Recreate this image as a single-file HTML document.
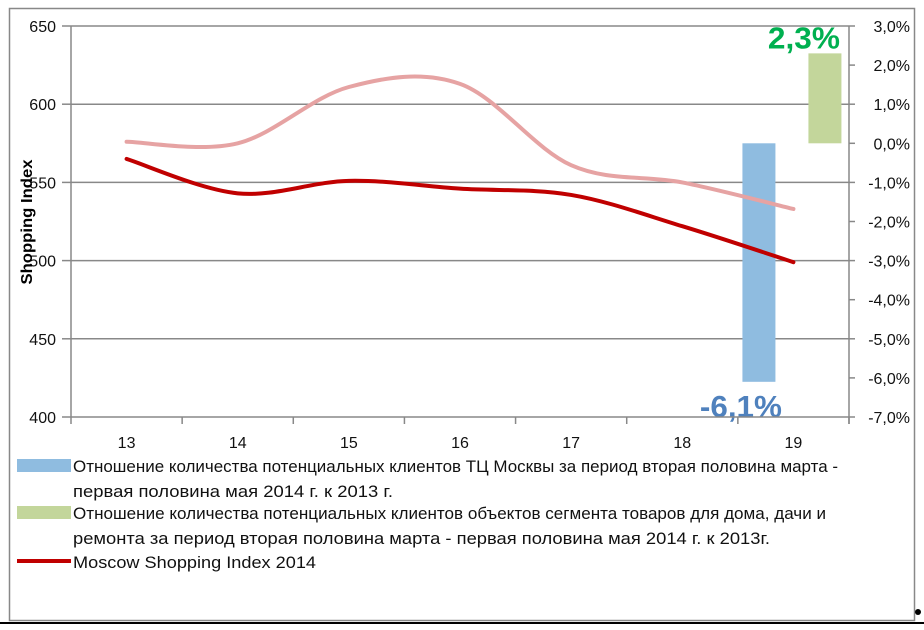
<!DOCTYPE html>
<html><head><meta charset="utf-8"><style>
html,body{margin:0;padding:0;background:#fff;}
svg{display:block;font-family:"Liberation Sans",sans-serif;}
</style></head><body>
<svg id="chart" width="924" height="630" viewBox="0 0 924 630">
<rect x="0" y="0" width="924" height="630" fill="#fff"/>
<rect x="9.5" y="8.5" width="905" height="612" fill="none" stroke="#888" stroke-width="1.5"/>
<line x1="0" y1="623" x2="924" y2="623" stroke="#000" stroke-width="2"/>
<g id="grid"></g><g id="bars"></g><g id="lines"></g><g id="axes"></g>
<text x="32" y="222" transform="rotate(-90 32 222)" text-anchor="middle" font-size="16" font-weight="bold" textLength="125" lengthAdjust="spacingAndGlyphs">Shopping Index</text>
<g id="legend" font-size="17" fill="#111">
<rect x="17" y="459" width="54" height="13" fill="#8fbce0"/>
<text x="73" y="472" textLength="765" lengthAdjust="spacingAndGlyphs">Отношение количества потенциальных клиентов ТЦ Москвы за период вторая половина марта -</text>
<text x="73" y="497" textLength="320" lengthAdjust="spacingAndGlyphs">первая половина мая 2014 г. к 2013 г.</text>
<rect x="17" y="506" width="54" height="13" fill="#c3d69b"/>
<text x="73" y="519" textLength="753" lengthAdjust="spacingAndGlyphs">Отношение количества потенциальных клиентов объектов сегмента товаров для дома, дачи и</text>
<text x="73" y="544" textLength="697" lengthAdjust="spacingAndGlyphs">ремонта за период вторая половина марта - первая половина мая 2014 г. к 2013г.</text>
<line x1="17" y1="561" x2="71" y2="561" stroke="#c00000" stroke-width="4"/>
<text x="73" y="568" textLength="243" lengthAdjust="spacingAndGlyphs">Moscow Shopping Index 2014</text>
</g>
<circle cx="918" cy="612" r="3" fill="#000"/>
</svg>
<script>
const categories = ["13","14","15","16","17","18","19"];
const indexValues = [565, 543, 551, 546, 542, 522, 499];
const shadowValues = [576, 575, 611, 613, 561, 550, 533];
const leftTicks = [400, 450, 500, 550, 600, 650];
const rightTicks = [-7, -6, -5, -4, -3, -2, -1, 0, 1, 2, 3];
const barMoscow = -6.1;
const barHome = 2.3;
const barLabels = ["-6,1%", "2,3%"];

const NS = "http://www.w3.org/2000/svg";
const X0 = 71, X1 = 849, Y0 = 26, Y1 = 417;
const band = (X1 - X0) / categories.length;
const xc = i => X0 + band * (i + 0.5);
const yL = v => Y1 - (v - 400) / 250 * (Y1 - Y0);
const yR = v => Y1 - (v + 7) / 10 * (Y1 - Y0);
function mk(tag, attrs, parent) { const e = document.createElementNS(NS, tag); for (const k in attrs) e.setAttribute(k, attrs[k]); parent.appendChild(e); return e; }
const grid = document.getElementById('grid'), axes = document.getElementById('axes'), bars = document.getElementById('bars'), lines = document.getElementById('lines');

leftTicks.forEach(t => {
  const y = yL(t);
  if (t !== 400) { const g = mk('line', {x1: X0, x2: X1, y1: y, y2: y, stroke: '#888', 'stroke-width': 1.5}, grid);
    
     }
  mk('line', {x1: X0 - 9, x2: X0, y1: y, y2: y, stroke: '#888', 'stroke-width': 1.5}, axes);
  const tx = mk('text', {x: 56, y: y + 6, 'text-anchor': 'end', 'font-size': 16, fill: '#111'}, axes);
  tx.textContent = t;
  
  
});
rightTicks.forEach(t => {
  const y = yR(t);
  mk('line', {x1: X1, x2: X1 + 6, y1: y, y2: y, stroke: '#888', 'stroke-width': 1.5}, axes);
  const tx = mk('text', {x: 910, y: y + 6, 'text-anchor': 'end', 'font-size': 16, fill: '#111'}, axes);
  tx.textContent = t.toFixed(1).replace('.', ',') + '%';
  
  
});
mk('line', {x1: X0, x2: X0, y1: Y0, y2: Y1 + 7, stroke: '#888', 'stroke-width': 1.5}, axes);
mk('line', {x1: X1, x2: X1, y1: Y0, y2: Y1 + 7, stroke: '#888', 'stroke-width': 1.5}, axes);
mk('line', {x1: X0, x2: X1, y1: Y1, y2: Y1, stroke: '#888', 'stroke-width': 1.5}, axes);
categories.forEach((c, i) => {
  mk('line', {x1: X0 + band * (i + 1), x2: X0 + band * (i + 1), y1: Y1, y2: Y1 + 7, stroke: '#888', 'stroke-width': 1.5}, axes);
  const tx = mk('text', {x: xc(i), y: 448, 'text-anchor': 'middle', 'font-size': 16, fill: '#111'}, axes);
  tx.textContent = c;
  
  
});

const last = categories.length - 1, bw = 33;
function bar(v, x, color, name) {
  const y0 = yR(0), y = yR(v);
  const r = mk('rect', {x: x, y: Math.min(y0, y), width: bw, height: Math.abs(y - y0), fill: color}, bars);
  
  
}
const bx1 = xc(last) - 51, bx2 = xc(last) + 15;
bar(barMoscow, bx1, '#8fbce0', 'bar-moscow-clients');
bar(barHome, bx2, '#c3d69b', 'bar-home-segment');
const l1 = mk('text', {x: bx1 + bw / 2 - 18, y: yR(barMoscow) + 35, 'text-anchor': 'middle', 'font-size': 31, 'font-weight': 'bold', fill: '#4f81bd', textLength: 82, lengthAdjust: 'spacingAndGlyphs'}, bars);
l1.textContent = barLabels[0];


const l2 = mk('text', {x: bx2 + bw / 2 - 21, y: yR(barHome) - 5, 'text-anchor': 'middle', 'font-size': 31, 'font-weight': 'bold', fill: '#00b050', textLength: 72, lengthAdjust: 'spacingAndGlyphs'}, bars);
l2.textContent = barLabels[1];



function smooth(vals) {
  const p = vals.map((v, i) => [xc(i), yL(v)]);
  let d = 'M' + p[0][0] + ',' + p[0][1];
  for (let i = 0; i < p.length - 1; i++) {
    const a = p[i - 1] || p[i], b = p[i], c = p[i + 1], e = p[i + 2] || c;
    const t = 6;
    d += ' C' + (b[0] + (c[0] - a[0]) / t) + ',' + (b[1] + (c[1] - a[1]) / t) + ' ' + (c[0] - (e[0] - b[0]) / t) + ',' + (c[1] - (e[1] - b[1]) / t) + ' ' + c[0] + ',' + c[1];
  }
  return d;
}
const s = mk('path', {d: smooth(shadowValues), fill: 'none', stroke: '#e6a3a3', 'stroke-width': 4, 'stroke-linecap': 'round'}, lines);


const m = mk('path', {d: smooth(indexValues), fill: 'none', stroke: '#c00000', 'stroke-width': 4, 'stroke-linecap': 'round'}, lines);


</script>
</body></html>
